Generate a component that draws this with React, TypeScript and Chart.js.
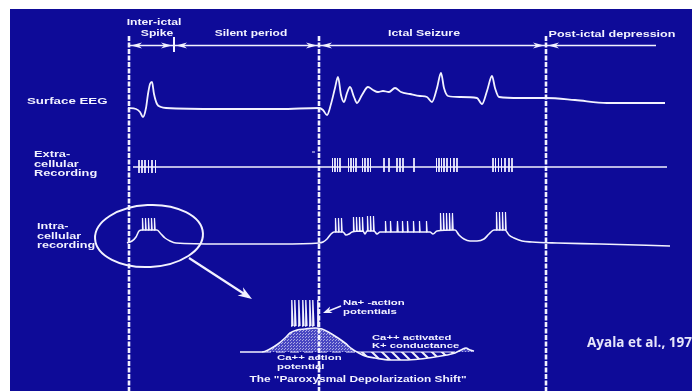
import React, { useEffect, useRef } from "react";
import { Chart, registerables } from "chart.js";

Chart.register(...registerables);

// ---- Recording layout (time axis in arbitrary units, vertical axis in display rows) ----
const CANVAS_W = 692;
const CANVAS_H = 391;

// Phase boundaries along the time axis
const PHASE_BOUNDS = [129, 319, 546];
const SPIKE_PHASE_END = 174;
const TIMELINE_END = 656;

const PHASE_LABELS = ["Inter-ictal", "Spike", "Silent period", "Ictal Seizure", "Post-ictal depression"];
const TRACE_LABELS = [["Surface EEG"], ["Extra-", "cellular", "Recording"], ["Intra-", "cellular", "recording"]];
const PDS_LABELS = ["Na+ -action", "potentials", "Ca++ activated", "K+ conductance", "Ca++ action", "potential"];
const PDS_TITLE = "The \"Paroxysmal Depolarization Shift\"";
const CITATION = "Ayala et al., 1970";

// Surface EEG: [time, amplitude]
const EEG_TRACE: [number, number][] = [
  [128, 0], [136, -1], [140, -4], [143, -9], [146, 0], [148, 14], [150, 24], [152, 26], [154, 14],
  [157, 4], [161, 1], [166, 0], [220, -1], [280, -1], [319, 0],
  [323, -2], [327, -7], [331, 4], [335, 20], [338, 31], [341, 13], [344, 6], [347, 15], [350, 21],
  [354, 11], [357, 5], [362, 13], [368, 21], [373, 18], [378, 16], [383, 17], [389, 16], [395, 20],
  [401, 16], [410, 14], [420, 12], [427, 11], [432, 6], [437, 20], [441, 35], [444, 20], [448, 12],
  [460, 11], [477, 10], [482, 4], [487, 17], [492, 32], [495, 20], [499, 11], [520, 10], [546, 10],
  [575, 8], [607, 5], [665, 5],
];

// Extracellular unit firing: recording span and spike times
const EXTRA_SPAN: [number, number] = [133, 667];
const EXTRA_INTERICTAL_SPIKES = [139, 142, 145, 148.5, 152, 155.5];
const EXTRA_ICTAL_SPIKES = [
  332.5, 335, 337.5, 340, 348.5, 351, 353.5, 356, 362.5, 365, 368, 370.5, 384, 389,
  397, 400, 403, 414, 436.5, 439, 441.5, 444, 447, 450.5, 454, 457, 493, 495.5, 498.5, 501.5,
  505, 509, 512,
];

// Intracellular slow membrane potential: [time, amplitude]
const INTRA_TRACE: [number, number][] = [
  [127, 0], [132, 2], [136, 6], [139, 12], [142, 13], [150, 13], [157, 13], [161, 9], [165, 5],
  [170, 2], [176, 0], [220, -1], [280, -1], [319, 0], [323, 1], [327, 4], [331, 9], [334, 11],
  [343, 11], [346, 8], [349, 9], [352, 11], [363, 12], [365, 9], [367, 12], [374, 12], [377, 9],
  [380, 11], [430, 11], [433, 9], [437, 12], [455, 13], [459, 8], [464, 4], [470, 2], [477, 2],
  [484, 4], [489, 9], [494, 13], [505, 13], [509, 8], [514, 5], [522, 2], [532, 1], [557, 0],
  [600, -1], [670, -3],
];

// Intracellular action-potential bursts riding on the depolarisations
const INTRA_BURSTS = [
  { base: 13, peak: 25, times: [142, 145, 148, 151, 154] },
  { base: 11, peak: 25, times: [335, 338, 341] },
  { base: 12, peak: 26, times: [353, 356, 359, 362] },
  { base: 12, peak: 27, times: [367, 370, 373] },
  { base: 11, peak: 22, times: [385, 390, 397, 402, 407, 413, 419, 426] },
  { base: 13, peak: 30, times: [440, 443, 446, 449, 452] },
  { base: 13, peak: 31, times: [496, 499, 502, 505] },
];

// Enlarged paroxysmal depolarization shift: [time, amplitude]
const PDS_TRACE: [number, number][] = [
  [240, 0], [262, 0], [270, 3], [278, 8], [285, 14], [290, 19], [297, 22], [305, 23], [315, 24],
  [322, 23], [330, 19], [338, 14], [345, 9], [352, 3], [357, 0], [365, -4], [375, -6], [390, -8],
  [405, -8], [420, -7], [435, -5], [447, -3], [455, -1], [461, 2], [466, 4], [470, 2], [474, 1],
];
const PDS_SPIKES = { base: 26, peak: 52, times: [291, 294, 298, 302, 305, 309, 312, 317] };

// Baselines of each trace in display rows
const EEG_BASE = 108;
const EXTRA_BASE = 167;
const INTRA_BASE = 243;
const PDS_BASE = 352;

const BG_BLUE = "#0e0b98";
const INK = "#f2f2ff";
const FONT = '"Liberation Sans", Arial, sans-serif';

type Pt = { x: number; y: number | null };

const traceData = (trace: [number, number][], base: number): Pt[] =>
  trace.map(([t, a]) => ({ x: t, y: base - a }));

const burstData = (base: number, peak: number, times: number[], offset: number, w: number): Pt[] => {
  const out: Pt[] = [];
  times.forEach((t) => {
    out.push({ x: t, y: offset - base }, { x: t + w * 0.4, y: offset - peak }, { x: t + w, y: offset - base }, { x: t + w, y: null });
  });
  return out;
};

const tickData = (times: number[], up: number, down: number, base: number): Pt[] => {
  const out: Pt[] = [];
  times.forEach((t) => {
    out.push({ x: t, y: base - up }, { x: t, y: base - down }, { x: t, y: null });
  });
  return out;
};

function makePattern(kind: "dots" | "hatch"): CanvasPattern | string {
  const c = document.createElement("canvas");
  const g = c.getContext("2d");
  if (!g) return "rgba(255,255,255,0.3)";
  if (kind === "dots") {
    c.width = 3;
    c.height = 3;
    g.fillStyle = "rgba(120,120,230,0.55)";
    g.fillRect(0, 0, 3, 3);
    g.fillStyle = "rgba(255,255,255,0.55)";
    g.fillRect(0, 0, 1, 1);
    g.fillRect(2, 1, 1, 1);
  } else {
    c.width = 10;
    c.height = 10;
    g.strokeStyle = "rgba(255,255,255,0.95)";
    g.lineWidth = 2;
    g.beginPath();
    g.moveTo(-2, -2);
    g.lineTo(12, 12);
    g.moveTo(-2, 8);
    g.lineTo(2, 12);
    g.moveTo(8, -2);
    g.lineTo(12, 2);
    g.stroke();
  }
  return g.createPattern(c, "repeat") || "rgba(255,255,255,0.3)";
}

function stretchedText(
  ctx: CanvasRenderingContext2D, text: string, x: number, y: number,
  size: number, sx: number, align: CanvasTextAlign = "left", weight = "bold"
) {
  ctx.save();
  ctx.font = `${weight} ${size}px ${FONT}`;
  ctx.translate(x, y);
  ctx.scale(sx, 1);
  ctx.textAlign = align;
  ctx.textBaseline = "middle";
  ctx.fillText(text, 0, 0);
  ctx.restore();
}

function arrowHead(ctx: CanvasRenderingContext2D, tipX: number, tipY: number, dir: number, len: number, half: number) {
  ctx.beginPath();
  ctx.moveTo(tipX, tipY);
  ctx.lineTo(tipX - dir * len, tipY - half);
  ctx.lineTo(tipX - dir * len * 0.7, tipY);
  ctx.lineTo(tipX - dir * len, tipY + half);
  ctx.closePath();
  ctx.fill();
}

const backdrop = {
  id: "backdrop",
  beforeDraw(chart: Chart) {
    const { ctx } = chart;
    ctx.save();
    ctx.fillStyle = "#ffffff";
    ctx.fillRect(0, 0, chart.width, chart.height);
    ctx.fillStyle = BG_BLUE;
    ctx.fillRect(10, 9, chart.width - 10, chart.height - 9);
    ctx.restore();
  },
};

const annotations = {
  id: "annotations",
  afterDatasetsDraw(chart: Chart) {
    const { ctx } = chart;
    const xs = chart.scales.x;
    const ys = chart.scales.y;
    const px = (v: number) => xs.getPixelForValue(v);
    const py = (v: number) => ys.getPixelForValue(v);
    ctx.save();
    ctx.fillStyle = INK;
    ctx.strokeStyle = INK;

    // phase timeline
    const tl = py(45.5);
    ctx.lineWidth = 1.4;
    ctx.beginPath();
    ctx.moveTo(px(PHASE_BOUNDS[0]), tl);
    ctx.lineTo(px(TIMELINE_END), tl);
    ctx.stroke();
    ctx.lineWidth = 2;
    ctx.beginPath();
    ctx.moveTo(px(SPIKE_PHASE_END), py(37));
    ctx.lineTo(px(SPIKE_PHASE_END), py(52));
    ctx.stroke();
    const marks = [SPIKE_PHASE_END, PHASE_BOUNDS[1], PHASE_BOUNDS[2]];
    arrowHead(ctx, px(PHASE_BOUNDS[0]) + 2, tl, -1, 11, 3);
    marks.forEach((m) => {
      arrowHead(ctx, px(m) - 2, tl, 1, 11, 3);
      arrowHead(ctx, px(m) + 2, tl, -1, 11, 3);
    });

    // phase labels
    ctx.fillStyle = INK;
    stretchedText(ctx, PHASE_LABELS[0], px(154), py(22), 9.5, 1.28, "center");
    stretchedText(ctx, PHASE_LABELS[1], px(157), py(33), 9.5, 1.28, "center");
    stretchedText(ctx, PHASE_LABELS[2], px(251), py(33), 9.5, 1.26, "center");
    stretchedText(ctx, PHASE_LABELS[3], px(424), py(33), 9.5, 1.3, "center");
    stretchedText(ctx, PHASE_LABELS[4], px(612), py(34), 9.5, 1.32, "center");

    // trace labels
    stretchedText(ctx, TRACE_LABELS[0][0], px(27), py(101), 9.5, 1.4, "left");
    TRACE_LABELS[1].forEach((s, i) => stretchedText(ctx, s, px(34), py(155 + i * 9.5), 9, 1.42, "left"));
    TRACE_LABELS[2].forEach((s, i) => stretchedText(ctx, s, px(37), py(227 + i * 9.5), 9, 1.4, "left"));

    // magnifier ellipse and pointer
    ctx.lineWidth = 2;
    ctx.beginPath();
    ctx.ellipse(px(149), py(236), 54, 31, -0.05, 0, Math.PI * 2);
    ctx.stroke();
    const ax0 = px(189), ay0 = py(258), ax1 = px(252), ay1 = py(299);
    ctx.lineWidth = 2.2;
    ctx.beginPath();
    ctx.moveTo(ax0, ay0);
    ctx.lineTo(ax1 - 3, ay1 - 2);
    ctx.stroke();
    ctx.save();
    ctx.translate(ax1, ay1);
    ctx.rotate(Math.atan2(ay1 - ay0, ax1 - ax0));
    arrowHead(ctx, 0, 0, 1, 14, 5);
    ctx.restore();

    // Na+ pointer
    ctx.lineWidth = 1.5;
    const nx0 = px(341), ny0 = py(306), nx1 = px(323), ny1 = py(313);
    ctx.beginPath();
    ctx.moveTo(nx0, ny0);
    ctx.lineTo(nx1 + 3, ny1 - 1);
    ctx.stroke();
    ctx.save();
    ctx.translate(nx1, ny1);
    ctx.rotate(Math.atan2(ny1 - ny0, nx1 - nx0));
    arrowHead(ctx, 0, 0, 1, 9, 3.5);
    ctx.restore();

    // PDS annotations
    stretchedText(ctx, PDS_LABELS[0], px(343), py(303), 7.5, 1.52, "left");
    stretchedText(ctx, PDS_LABELS[1], px(343), py(311.5), 7.5, 1.52, "left");
    stretchedText(ctx, PDS_LABELS[2], px(372), py(338), 7.5, 1.5, "left");
    stretchedText(ctx, PDS_LABELS[3], px(372), py(346), 7.5, 1.5, "left");
    stretchedText(ctx, PDS_LABELS[4], px(277), py(357.5), 7.5, 1.52, "left");
    stretchedText(ctx, PDS_LABELS[5], px(277), py(366.5), 7.5, 1.52, "left");
    stretchedText(ctx, PDS_TITLE, px(358), py(380), 9, 1.32, "center");

    // citation
    ctx.save();
    ctx.font = `bold 13.5px "Open Sans", ${FONT}`;
    ctx.textAlign = "left";
    ctx.textBaseline = "middle";
    ctx.fillStyle = "#e6e6fa";
    ctx.fillText(CITATION, px(587), py(343));
    ctx.restore();

    ctx.restore();
  },
};

export default function App() {
  const ref = useRef<HTMLCanvasElement | null>(null);

  useEffect(() => {
    document.body.style.margin = "0";
    const canvas = ref.current;
    if (!canvas) return;

    const base = {
      borderColor: INK,
      pointRadius: 0,
      fill: false,
      tension: 0,
      spanGaps: false,
    };

    const boundaryLines = PHASE_BOUNDS.map((b) => ({
      ...base,
      data: [{ x: b, y: 36 }, { x: b, y: CANVAS_H }],
      borderWidth: 2.6,
      borderDash: [5, 1.5],
    }));

    const chart = new Chart(canvas, {
      type: "line",
      data: {
        datasets: [
          ...boundaryLines,
          {
            ...base,
            data: traceData(EEG_TRACE, EEG_BASE),
            borderWidth: 1.8,
            cubicInterpolationMode: "monotone",
          },
          {
            ...base,
            data: [{ x: EXTRA_SPAN[0], y: EXTRA_BASE }, { x: EXTRA_SPAN[1], y: EXTRA_BASE }],
            borderWidth: 1.5,
          },
          {
            ...base,
            data: [
              ...tickData(EXTRA_INTERICTAL_SPIKES, 7, -6, EXTRA_BASE),
              ...tickData(EXTRA_ICTAL_SPIKES, 9, -5, EXTRA_BASE),
              { x: 312, y: 152 }, { x: 315, y: 152 },
            ],
            borderWidth: 1,
          },
          {
            ...base,
            data: traceData(INTRA_TRACE, INTRA_BASE),
            borderWidth: 1.6,
            cubicInterpolationMode: "monotone",
          },
          ...INTRA_BURSTS.map((b) => ({
            ...base,
            data: burstData(b.base, b.peak, b.times, INTRA_BASE, 1.2),
            borderWidth: 1.2,
          })),
          {
            ...base,
            data: traceData(PDS_TRACE, PDS_BASE),
            borderWidth: 1.6,
            cubicInterpolationMode: "monotone",
            fill: {
              target: { value: PDS_BASE },
              above: makePattern("dots"),
              below: makePattern("hatch"),
            },
          },
          {
            ...base,
            data: [{ x: 262, y: PDS_BASE }, { x: 357, y: PDS_BASE }],
            borderWidth: 1.2,
            borderDash: [9, 5],
          },
          {
            ...base,
            data: [{ x: 357, y: PDS_BASE }, { x: 455, y: PDS_BASE }],
            borderWidth: 1.2,
          },
          {
            ...base,
            data: burstData(PDS_SPIKES.base, PDS_SPIKES.peak, PDS_SPIKES.times, PDS_BASE, 2),
            borderWidth: 1.3,
          },
        ] as any,
      },
      options: {
        animation: false,
        responsive: false,
        maintainAspectRatio: false,
        layout: { padding: 0 },
        plugins: {
          legend: { display: false },
          tooltip: { enabled: false },
          title: { display: false },
        },
        scales: {
          x: { type: "linear", min: 0, max: CANVAS_W, display: false },
          y: { type: "linear", min: 0, max: CANVAS_H, reverse: true, display: false },
        },
      },
      plugins: [backdrop, annotations],
    });

    return () => chart.destroy();
  }, []);

  return <canvas ref={ref} width={CANVAS_W} height={CANVAS_H} style={{ display: "block" }} />;
}
